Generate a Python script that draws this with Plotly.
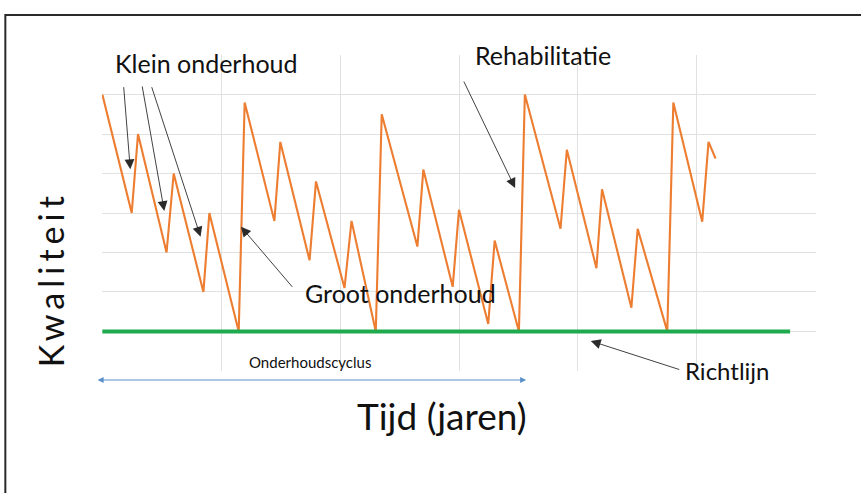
import plotly.graph_objects as go

# ---- data ----
tijd = [0, 0.247, 0.30, 0.54, 0.60, 0.85, 0.90, 1.147, 1.197, 1.447, 1.497, 1.743,
        1.797, 2.037, 2.096, 2.30, 2.35, 2.65, 2.70, 2.947, 3.0, 3.246, 3.30, 3.504,
        3.554, 3.854, 3.907, 4.156, 4.203, 4.45, 4.503, 4.752, 4.803, 5.046, 5.099, 5.158]
kwaliteit = [7.0, 4.0, 6.0, 3.0, 5.0, 2.0, 4.0, 1.0, 6.8, 3.8, 5.8, 2.8,
             4.8, 2.1, 3.8, 1.0, 6.5, 3.15, 5.1, 2.13, 4.08, 1.19, 3.3, 1.0,
             7.0, 3.6, 5.6, 2.6, 4.6, 1.6, 3.6, 1.0, 6.8, 3.78, 5.8, 5.38]
richtlijn_x = [0, 5.785]
richtlijn_y = [1, 1]

y_title = "Kwaliteit"
x_title = "Tijd (jaren)"
labels = {
    "klein": "Klein onderhoud",
    "groot": "Groot onderhoud",
    "rehab": "Rehabilitatie",
    "richt": "Richtlijn",
    "cyclus": "Onderhoudscyclus",
}

# ---- layout helpers (pixel -> paper) ----
W, H = 861, 493
L, R, T, B = 101.7, 816.0, 55.0, 371.0
XMAX, YMAX = 6.0, 8.0
EPS = 0.003
def PX(px):
    return (px - L) / (R - L)
def PY(py):
    return (B - py) / (B - T)

FONT = "Lato, Carlito, Calibri, sans-serif"
ORANGE = "#ED7D31"
GREEN = "#1FAA4E"

fig = go.Figure()
fig.add_trace(go.Scatter(x=tijd, y=kwaliteit, mode="lines",
                         line=dict(color=ORANGE, width=2.1), hoverinfo="skip"))
fig.add_trace(go.Scatter(x=richtlijn_x, y=richtlijn_y, mode="lines",
                         line=dict(color=GREEN, width=4), hoverinfo="skip"))

ann = []
def text(t, px, py, size, xanchor="left", angle=0):
    ann.append(dict(x=PX(px), y=PY(py), xref="paper", yref="paper", text=t,
                    showarrow=False, xanchor=xanchor, yanchor="middle",
                    textangle=angle,
                    font=dict(family=FONT, size=size, color="#111111")))
def arrow(tip, tail):
    ann.append(dict(x=PX(tip[0]), y=PY(tip[1]), xref="paper", yref="paper",
                    text="", showarrow=True, ax=tail[0] - tip[0], ay=tail[1] - tip[1],
                    arrowhead=2, arrowsize=2.2, arrowwidth=0.9,
                    arrowcolor="#2b2b2b", standoff=0))

text(labels["klein"], 113, 63, 25)
text(labels["rehab"], 473, 55, 25)
text(labels["groot"], 303, 293, 25)
text(labels["richt"], 683, 370, 24)
text(labels["cyclus"], 247, 361.5, 15)
text(x_title, 442, 415, 37, xanchor="center")
text('<span style="letter-spacing:5px">' + y_title + '</span>', 50, 279, 34,
     xanchor="center", angle=-90)

arrow((130, 169.3), (123.3, 85.7))
arrow((164, 211), (141.7, 85))
arrow((200.3, 236.7), (151, 85.7))
arrow((240.7, 226.7), (293.3, 288.3))
arrow((515, 188), (463, 80))
arrow((590.7, 341), (680.7, 370))

# blue double arrow (Onderhoudscyclus)
ann.append(dict(x=PX(526), y=PY(380), xref="paper", yref="paper",
                ax=96 - 526, ay=0, text="", showarrow=True,
                arrowside="end+start", arrowhead=2, arrowsize=1.2,
                arrowwidth=1, arrowcolor="#5B8FC9", standoff=0, startstandoff=0))

# outer frame
shapes = [dict(type="rect", xref="paper", yref="paper",
               x0=PX(5), x1=PX(W + 5), y0=PY(H + 5), y1=PY(15),
               line=dict(color="#2a2a2a", width=2), fillcolor="rgba(0,0,0,0)")]

fig.update_layout(
    width=W, height=H,
    margin=dict(l=L, r=W - R, t=T, b=H - B, autoexpand=False),
    paper_bgcolor="white", plot_bgcolor="white",
    showlegend=False,
    annotations=ann, shapes=shapes,
    xaxis=dict(range=[-EPS, XMAX + EPS], dtick=1, tick0=0, showgrid=True,
               gridcolor="#E1E1E1", gridwidth=1, zeroline=False,
               showticklabels=False, ticks="", showline=False, fixedrange=True),
    yaxis=dict(range=[-EPS, YMAX + EPS], dtick=1, tick0=0, showgrid=True,
               gridcolor="#E1E1E1", gridwidth=1, zeroline=False,
               showticklabels=False, ticks="", showline=False, fixedrange=True),
)

fig.write_html("out.html", config={"displayModeBar": False},
               post_script="document.body.style.margin='0';document.body.style.overflow='hidden';")
